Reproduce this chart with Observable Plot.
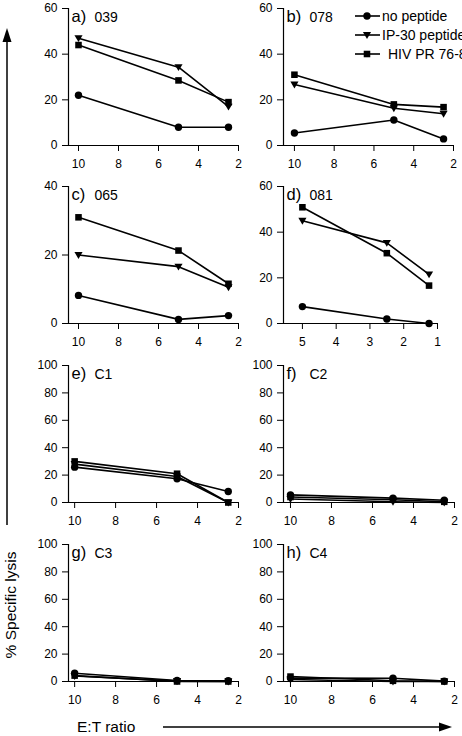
<!DOCTYPE html>
<html>
<head>
<meta charset="utf-8">
<script src="https://cdn.jsdelivr.net/npm/d3@7"></script>
<script src="https://cdn.jsdelivr.net/npm/@observablehq/plot@0.6"></script>
<style>
  html, body { margin: 0; padding: 0; background: #fff; }
  #wrap { position: relative; width: 462px; height: 736px; overflow: hidden; }
  .panel { position: absolute; }
  .panel svg { overflow: visible; }
  #overlay { position: absolute; left: 0; top: 0; }
  svg text { font-family: "Liberation Sans", Arial, sans-serif; }
</style>
</head>
<body>
<div id="wrap">
<svg id="overlay" width="462" height="736" xmlns="http://www.w3.org/2000/svg"></svg>
</div>
<script>
// ---------- data ----------
const ratios = [10, 5, 2.5];
const ratiosD = [5, 2.5, 1.25];
const panelLetters = ["a)", "b)", "c)", "d)", "e)", "f)", "g)", "h)"];
const panelNames = ["039", "078", "065", "081", "C1", "C2", "C3", "C4"];
const seriesNames = ["no peptide", "IP-30 peptide", "HIV PR 76-84"];
const noPeptide = [[22, 8, 8], [5.5, 11.2, 2.9], [8.2, 1.2, 2.3], [7.4, 2, 0], [25.8, 17.3, 8], [5.6, 3.2, 1.6], [6, 0.7, 0.5], [2.5, 2.4, 0.3]];
const ip30 = [[47, 34.3, 17], [26.7, 16.3, 13.9], [20, 16.6, 10.6], [45, 35.3, 21.5], [28, 19, 0], [2.5, 0.5, 0], [4, 0.3, 0], [1.5, 0, 0]];
const hivPR = [[44, 28.5, 19], [31, 18, 16.8], [31, 21.3, 11.6], [50.9, 30.8, 16.6], [30, 21, 0], [4, 2, 0.5], [4.3, 0, 0], [3.6, 0.5, 0]];
const yMax = [60, 60, 40, 60, 100, 100, 100, 100];
const yTicks40 = [0, 20, 40];
const yTicks60 = [0, 20, 40, 60];
const yTicks100 = [0, 20, 40, 60, 80, 100];
const xTicksMain = [10, 8, 6, 4, 2];
const xTicksD = [5, 4, 3, 2, 1];
const xLabel = "E:T ratio";
const yLabel = "% Specific lysis";

// ---------- layout ----------
const colAxis = [68, 283];
const rowTop = [8, 186, 365, 543.5];
const plotH = 137;
const xGeom = [
  {right: 238, dom: [10.5, 2]},
  {right: 453, dom: [10.55, 2]},
  {right: 238, dom: [10.5, 2]},
  {right: 438, dom: [5.56, 0.97]},
  {right: 238, dom: [10.3, 2]},
  {right: 454, dom: [10.34, 2]},
  {right: 238, dom: [10.3, 2]},
  {right: 454, dom: [10.34, 2]}
];

// downward triangle symbol
const triDown = {
  draw(context, size) {
    const s = Math.sqrt(size);
    const hw = 0.62 * s, t = -0.46 * s, b = 0.6 * s;
    context.moveTo(-hw, t);
    context.lineTo(hw, t);
    context.lineTo(0, b);
    context.closePath();
  }
};
const symbols = ["circle", triDown, "square"];

const wrap = document.getElementById("wrap");
const overlayEl = document.getElementById("overlay");
const allSeries = [noPeptide, ip30, hivPR];

for (let i = 0; i < 8; i++) {
  const col = i % 2, row = Math.floor(i / 2);
  const ax = colAxis[col], top = rowTop[row];
  const g = xGeom[i];
  const mL = 45, mT = 12, mB = 30, mR = 8;
  const w = mL + (g.right - ax) + mR;
  const h = mT + plotH + mB;
  const xs = i === 3 ? ratiosD : ratios;
  const rows = [];
  seriesNames.forEach((s, k) => {
    const vals = allSeries[k][i];
    xs.forEach((x, j) => rows.push({series: s, ratio: x, value: vals[j]}));
  });
  const yt = yMax[i] === 40 ? yTicks40 : yMax[i] === 60 ? yTicks60 : yTicks100;
  const chart = Plot.plot({
    width: w, height: h,
    marginLeft: mL, marginTop: mT, marginBottom: mB, marginRight: mR,
    x: {domain: g.dom},
    y: {domain: [0, yMax[i]]},
    style: {fontFamily: "Liberation Sans, Arial, sans-serif", fontSize: "12px", color: "black", background: "transparent", overflow: "visible"},
    marks: [
      Plot.ruleY([0], {stroke: "black", strokeWidth: 1.2}),
      Plot.ruleX([g.dom[0]], {stroke: "black", strokeWidth: 1.2}),
      Plot.axisX({ticks: i === 3 ? xTicksD : xTicksMain, tickSize: 6, tickPadding: 8, label: null, tickFormat: d => String(d), fontSize: 12}),
      Plot.axisY({ticks: yt, tickSize: 6, tickPadding: 5, label: null, tickFormat: d => String(d), fontSize: 12}),
      Plot.line(rows, {x: "ratio", y: "value", z: "series", stroke: "black", strokeWidth: 1.6}),
      ...seriesNames.map((s, k) => Plot.dot(rows.filter(d => d.series === s), {x: "ratio", y: "value", symbol: symbols[k], r: 3.7, fill: "black", stroke: "none"})),
      Plot.text([panelLetters[i]], {text: d => d, frameAnchor: "top-left", dx: 3, dy: 8.5, fontSize: 16.5, lineAnchor: "middle", textAnchor: "start", fill: "black"}),
      Plot.text([panelNames[i]], {text: d => d, frameAnchor: "top-left", dx: 26, dy: 9.5, fontSize: 14, lineAnchor: "middle", textAnchor: "start", fill: "black"})
    ]
  });
  const div = document.createElement("div");
  div.className = "panel";
  div.style.left = (ax - mL) + "px";
  div.style.top = (top - mT) + "px";
  div.style.width = w + "px";
  div.style.height = h + "px";
  div.appendChild(chart);
  wrap.insertBefore(div, overlayEl);
}

// ---------- overlay: arrows, axis titles, legend ----------
const svg = d3.select("#overlay");
svg.append("line").attr("x1", 7).attr("x2", 7).attr("y1", 525).attr("y2", 40)
  .attr("stroke", "black").attr("stroke-width", 1.5);
svg.append("path").attr("d", "M7,28 L2.5,42 L11.5,42 Z").attr("fill", "black");
svg.append("line").attr("x1", 163).attr("x2", 442).attr("y1", 727).attr("y2", 727)
  .attr("stroke", "black").attr("stroke-width", 1.5);
svg.append("path").attr("d", "M452,727 L439,722.5 L439,731.5 Z").attr("fill", "black");
svg.append("text").attr("x", 77).attr("y", 732).attr("font-size", 15.5).attr("fill", "black").text(xLabel);
svg.append("text").attr("transform", "translate(16,605) rotate(-90)").attr("text-anchor", "middle")
  .attr("font-size", 15.5).attr("fill", "black").text(yLabel);

const legY = [16, 35, 54];
const legTextX = [382, 382, 388];
seriesNames.forEach((s, k) => {
  svg.append("line").attr("x1", 355).attr("x2", 380).attr("y1", legY[k]).attr("y2", legY[k])
    .attr("stroke", "black").attr("stroke-width", 1.6);
  const size = Math.PI * 3.7 * 3.7;
  const symType = k === 0 ? d3.symbolCircle : k === 1 ? triDown : d3.symbolSquare;
  svg.append("path").attr("d", d3.symbol(symType, size)())
    .attr("transform", `translate(367,${legY[k]})`).attr("fill", "black");
  svg.append("text").attr("x", legTextX[k]).attr("y", legY[k]).attr("dy", "0.35em")
    .attr("font-size", 14).attr("fill", "black").text(s);
});
</script>
</body>
</html>
